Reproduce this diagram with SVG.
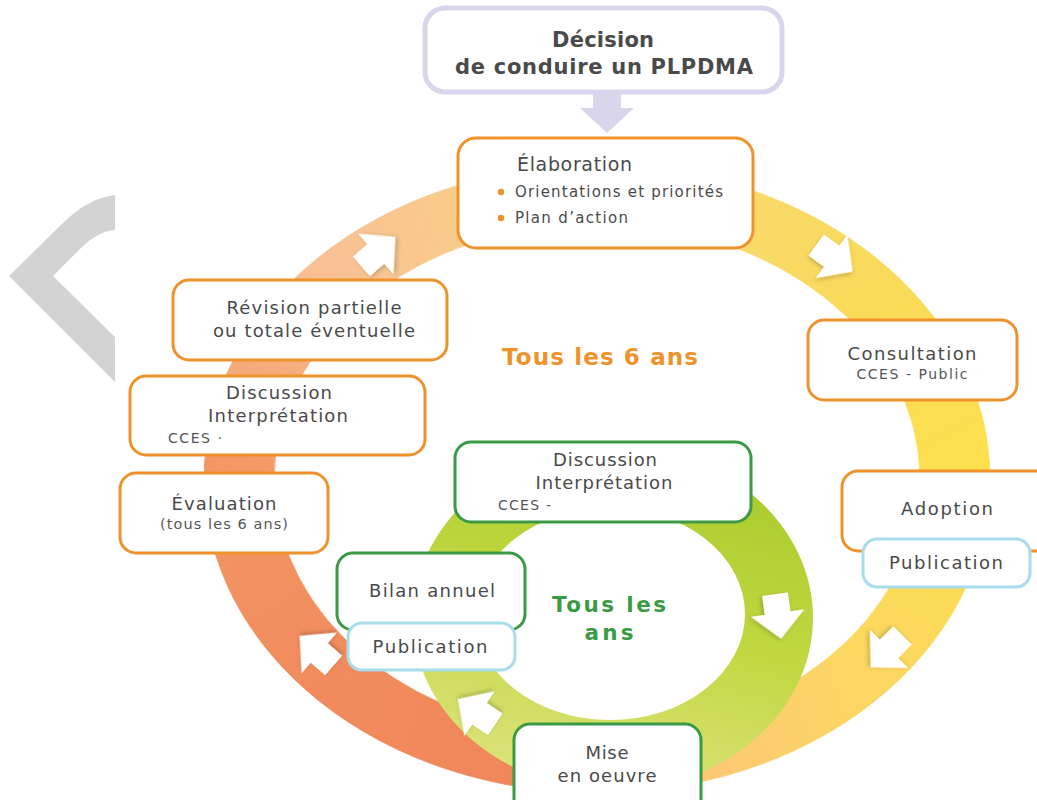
<svg xmlns="http://www.w3.org/2000/svg" width="1037" height="800" viewBox="0 0 1037 800">
<style>
.t{font-family:"DejaVu Sans","Open Sans","Noto Sans",sans-serif;fill:#4a4a4a;font-size:18px}
.s{font-size:14px;fill:#555}
.c{text-anchor:middle}
.ob{fill:#fff;stroke:#f0922b;stroke-width:3}
.gb{fill:#fff;stroke:#3c9a47;stroke-width:3}
.bb{fill:#fff;stroke:#a9dcec;stroke-width:3}
.arr{fill:#fff;filter:url(#sh)}
.big{font-family:"DejaVu Sans","Open Sans","Noto Sans",sans-serif;font-weight:bold;font-size:23px;text-anchor:middle}
</style>
<defs>
<filter id="sh" x="-30%" y="-30%" width="160%" height="160%"><feDropShadow dx="1" dy="2" stdDeviation="2" flood-color="#000" flood-opacity="0.22"/></filter>
<path id="ar" d="M-22,-13 L-3,-13 L-3,-27 L23,0 L-3,27 L-3,13 L-22,13 Z"/>
<linearGradient id="gA" gradientUnits="userSpaceOnUse" x1="597" y1="764" x2="343.9" y2="680.5"><stop offset="0" stop-color="#f0845a"/><stop offset="1" stop-color="#f18b5d"/></linearGradient>
<linearGradient id="gB" gradientUnits="userSpaceOnUse" x1="343.9" y1="680.5" x2="239" y2="479"><stop offset="0" stop-color="#f18b5d"/><stop offset="1" stop-color="#f39664"/></linearGradient>
<linearGradient id="gC" gradientUnits="userSpaceOnUse" x1="239" y1="479" x2="343.9" y2="277.5"><stop offset="0" stop-color="#f39664"/><stop offset="1" stop-color="#f8c194"/></linearGradient>
<linearGradient id="gD" gradientUnits="userSpaceOnUse" x1="343.9" y1="277.5" x2="597" y2="194"><stop offset="0" stop-color="#f8c194"/><stop offset="1" stop-color="#fad87e"/></linearGradient>
<linearGradient id="gE" gradientUnits="userSpaceOnUse" x1="597" y1="194" x2="850.1" y2="277.5"><stop offset="0" stop-color="#fad87e"/><stop offset="1" stop-color="#f9da5b"/></linearGradient>
<linearGradient id="gF" gradientUnits="userSpaceOnUse" x1="850.1" y1="277.5" x2="955" y2="479"><stop offset="0" stop-color="#f9da5b"/><stop offset="1" stop-color="#fce04e"/></linearGradient>
<linearGradient id="gG" gradientUnits="userSpaceOnUse" x1="955" y1="479" x2="850.1" y2="680.5"><stop offset="0" stop-color="#fce04e"/><stop offset="1" stop-color="#fcd663"/></linearGradient>
<linearGradient id="gH" gradientUnits="userSpaceOnUse" x1="850.1" y1="680.5" x2="597" y2="764"><stop offset="0" stop-color="#fcd663"/><stop offset="1" stop-color="#fdbf80"/></linearGradient>
<linearGradient id="gG2" gradientUnits="userSpaceOnUse" x1="640" y1="450" x2="560" y2="790"><stop offset="0" stop-color="#a9cb2d"/><stop offset="0.5" stop-color="#c2d842"/><stop offset="1" stop-color="#dde37d"/></linearGradient>
</defs>
<rect width="1037" height="800" fill="#fff"/>
<path d="M115,195 C96,197 78,208 62,224 L9,276 L115,382 L115,337 L53,276 L80,249 C92,237 103,231 115,230 Z" fill="#d3d3d3"/>
<g id="outer-ring">
<path d="M597,793 A393,314 0 0 1 319.1,701 L368.6,660 A323,256 0 0 0 597,735 Z" fill="url(#gA)" stroke="url(#gA)" stroke-width="0.8"/>
<path d="M319.1,701 A393,314 0 0 1 204,479 L274,479 A323,256 0 0 0 368.6,660 Z" fill="url(#gB)" stroke="url(#gB)" stroke-width="0.8"/>
<path d="M204,479 A393,314 0 0 1 319.1,257 L368.6,298 A323,256 0 0 0 274,479 Z" fill="url(#gC)" stroke="url(#gC)" stroke-width="0.8"/>
<path d="M319.1,257 A393,314 0 0 1 597,165 L597,223 A323,256 0 0 0 368.6,298 Z" fill="url(#gD)" stroke="url(#gD)" stroke-width="0.8"/>
<path d="M597,165 A393,314 0 0 1 874.9,257 L825.4,298 A323,256 0 0 0 597,223 Z" fill="url(#gE)" stroke="url(#gE)" stroke-width="0.8"/>
<path d="M874.9,257 A393,314 0 0 1 990,479 L920,479 A323,256 0 0 0 825.4,298 Z" fill="url(#gF)" stroke="url(#gF)" stroke-width="0.8"/>
<path d="M990,479 A393,314 0 0 1 874.9,701 L825.4,660 A323,256 0 0 0 920,479 Z" fill="url(#gG)" stroke="url(#gG)" stroke-width="0.8"/>
<path d="M874.9,701 A393,314 0 0 1 597,793 L597,735 A323,256 0 0 0 825.4,660 Z" fill="url(#gH)" stroke="url(#gH)" stroke-width="0.8"/>
</g>
<g id="inner-ring">
<path fill-rule="evenodd" fill="url(#gG2)" d="M413,618 A200,172 0 1 0 813,618 A200,172 0 1 0 413,618 Z M475,614 A135,106 0 1 1 745,614 A135,106 0 1 1 475,614 Z"/>
</g>
<g id="connectors">
<polygon points="593,93 621,93 621,108 634,108 607,133 580,108 593,108" fill="#d9d5ea"/>
<use href="#ar" class="arr" transform="translate(378,252) rotate(-41)"/>
<use href="#ar" class="arr" transform="translate(834,258) rotate(36)"/>
<use href="#ar" class="arr" transform="translate(887,651) rotate(135)"/>
<use href="#ar" class="arr" transform="translate(317,651) rotate(221)"/>
<use href="#ar" class="arr" transform="translate(778,616) rotate(82)"/>
<use href="#ar" class="arr" transform="translate(477,712) rotate(214)"/>
</g>
<g id="decision">
<rect x="425" y="8" width="357" height="84" rx="20" fill="#fff" stroke="#dad5eb" stroke-width="5"/>
<text class="t c" x="603" y="47" style="font-weight:bold;font-size:21px" textLength="102" lengthAdjust="spacing">Décision</text>
<text class="t c" x="604" y="74" style="font-weight:bold;font-size:21px" textLength="298" lengthAdjust="spacing">de conduire un PLPDMA</text>
</g>
<g id="elaboration">
<rect class="ob" x="458" y="138" width="295" height="110" rx="18"/>
<text class="t" x="517" y="171" style="font-size:19px" textLength="115" lengthAdjust="spacing">Élaboration</text>
<circle cx="501" cy="192" r="3.2" fill="#f0922b"/>
<circle cx="501" cy="218" r="3.2" fill="#f0922b"/>
<text class="t" x="515" y="197" style="font-size:15px" textLength="208" lengthAdjust="spacing">Orientations et priorités</text>
<text class="t" x="515" y="223" style="font-size:15px" textLength="113" lengthAdjust="spacing">Plan d’action</text>
</g>
<g id="revision">
<rect class="ob" x="173" y="280" width="274" height="80" rx="16"/>
<text class="t c" x="314" y="314" textLength="175" lengthAdjust="spacing">Révision partielle</text>
<text class="t c" x="314" y="337" textLength="202" lengthAdjust="spacing">ou totale éventuelle</text>
</g>
<g id="discussion-6ans">
<rect class="ob" x="130" y="376" width="295" height="79" rx="16"/>
<text class="t c" x="279" y="399" textLength="106" lengthAdjust="spacing">Discussion</text>
<text class="t c" x="278" y="422" textLength="140" lengthAdjust="spacing">Interprétation</text>
<text class="t s" x="168" y="443" textLength="54" lengthAdjust="spacing">CCES ·</text>
</g>
<g id="evaluation">
<rect class="ob" x="120" y="473" width="208" height="80" rx="16"/>
<text class="t c" x="224" y="510" textLength="105" lengthAdjust="spacing">Évaluation</text>
<text class="t c s" x="224" y="529" style="font-size:14.5px" textLength="128" lengthAdjust="spacing">(tous les 6 ans)</text>
</g>
<g id="consultation">
<rect class="ob" x="808" y="320" width="209" height="80" rx="16"/>
<text class="t c" x="912" y="360" textLength="129" lengthAdjust="spacing">Consultation</text>
<text class="t c s" x="912" y="379" textLength="111" lengthAdjust="spacing">CCES - Public</text>
</g>
<g id="adoption">
<rect class="ob" x="842" y="471" width="210" height="80" rx="16"/>
<text class="t c" x="947" y="515" textLength="92" lengthAdjust="spacing">Adoption</text>
</g>
<g id="publication-adoption">
<rect class="bb" x="863" y="539" width="167" height="48" rx="14"/>
<text class="t c" x="946" y="569" textLength="114" lengthAdjust="spacing">Publication</text>
</g>
<g id="discussion-annuel">
<rect class="gb" x="455" y="442" width="296" height="80" rx="16"/>
<text class="t c" x="605" y="466" textLength="104" lengthAdjust="spacing">Discussion</text>
<text class="t c" x="604" y="489" textLength="137" lengthAdjust="spacing">Interprétation</text>
<text class="t s" x="498" y="510" textLength="53" lengthAdjust="spacing">CCES -</text>
</g>
<g id="bilan">
<rect class="gb" x="337" y="553" width="188" height="77" rx="16"/>
<text class="t c" x="432" y="597" textLength="126" lengthAdjust="spacing">Bilan annuel</text>
</g>
<g id="publication-bilan">
<rect class="bb" x="348" y="623" width="167" height="47" rx="14"/>
<text class="t c" x="430" y="653" textLength="115" lengthAdjust="spacing">Publication</text>
</g>
<g id="mise">
<rect class="gb" x="514" y="724" width="187" height="92" rx="16"/>
<text class="t c" x="607" y="759" textLength="43" lengthAdjust="spacing">Mise</text>
<text class="t c" x="607" y="782" textLength="99" lengthAdjust="spacing">en oeuvre</text>
</g>
<g id="labels">
<text class="big" x="600" y="365" fill="#f0922b" textLength="196" lengthAdjust="spacing">Tous les 6 ans</text>
<text class="big" fill="#3a9a45" style="font-size:21.5px"><tspan x="609" y="612" textLength="114" lengthAdjust="spacing">Tous les</tspan><tspan x="609" y="640" textLength="49" lengthAdjust="spacing">ans</tspan></text>
</g>
</svg>
